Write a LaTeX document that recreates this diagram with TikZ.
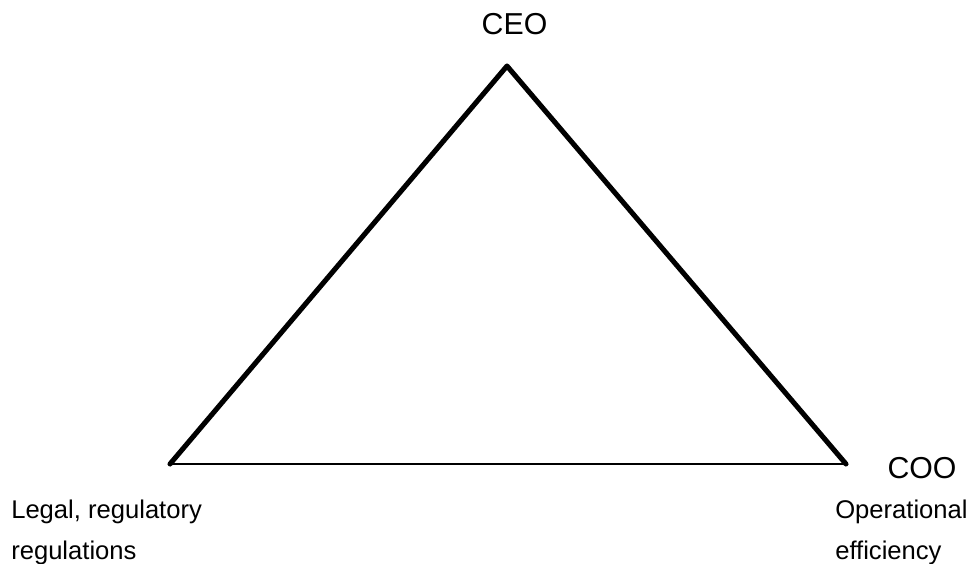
\documentclass[tikz,border=0pt]{standalone}
\usepackage{fontspec}
\setmainfont{Liberation Sans}
\usetikzlibrary{positioning}

\begin{document}
\begin{tikzpicture}[x=0.75pt, y=-0.75pt,
    role/.style={inner sep=0pt, anchor=base, font=\fontsize{22.7}{27}\selectfont},
    duty/.style={inner sep=0pt, anchor=base west, font=\fontsize{19.2}{23}\selectfont},
    side/.style={line width=3.8pt, line cap=round, line join=round},
    base/.style={line width=1.7pt}]

    % Canvas
    \useasboundingbox (0,0) rectangle (972,564);
    \fill[white] (0,0) rectangle (972,564);

    % Corners of the triangle
    \coordinate (top) at (507,66);
    \coordinate (left) at (170,464);
    \coordinate (right) at (846,464);

    % Edges
    \draw[base] (left) -- (right);
    \draw[side] (left) -- (top) -- (right);

    % Roles
    \node[role] (ceo) at (514.5,35) {CEO};
    \node[role] (coo) at (922,478) {COO};

    % Duties
    \node[duty] (legal) at (11,518) {Legal, regulatory};
    \node[duty] (regs) at (11,559.5) {regulations};
    \node[duty] (oper) at (835,518) {Operational};
    \node[duty] (eff) at (835,559) {efficiency};
\end{tikzpicture}
\end{document}
